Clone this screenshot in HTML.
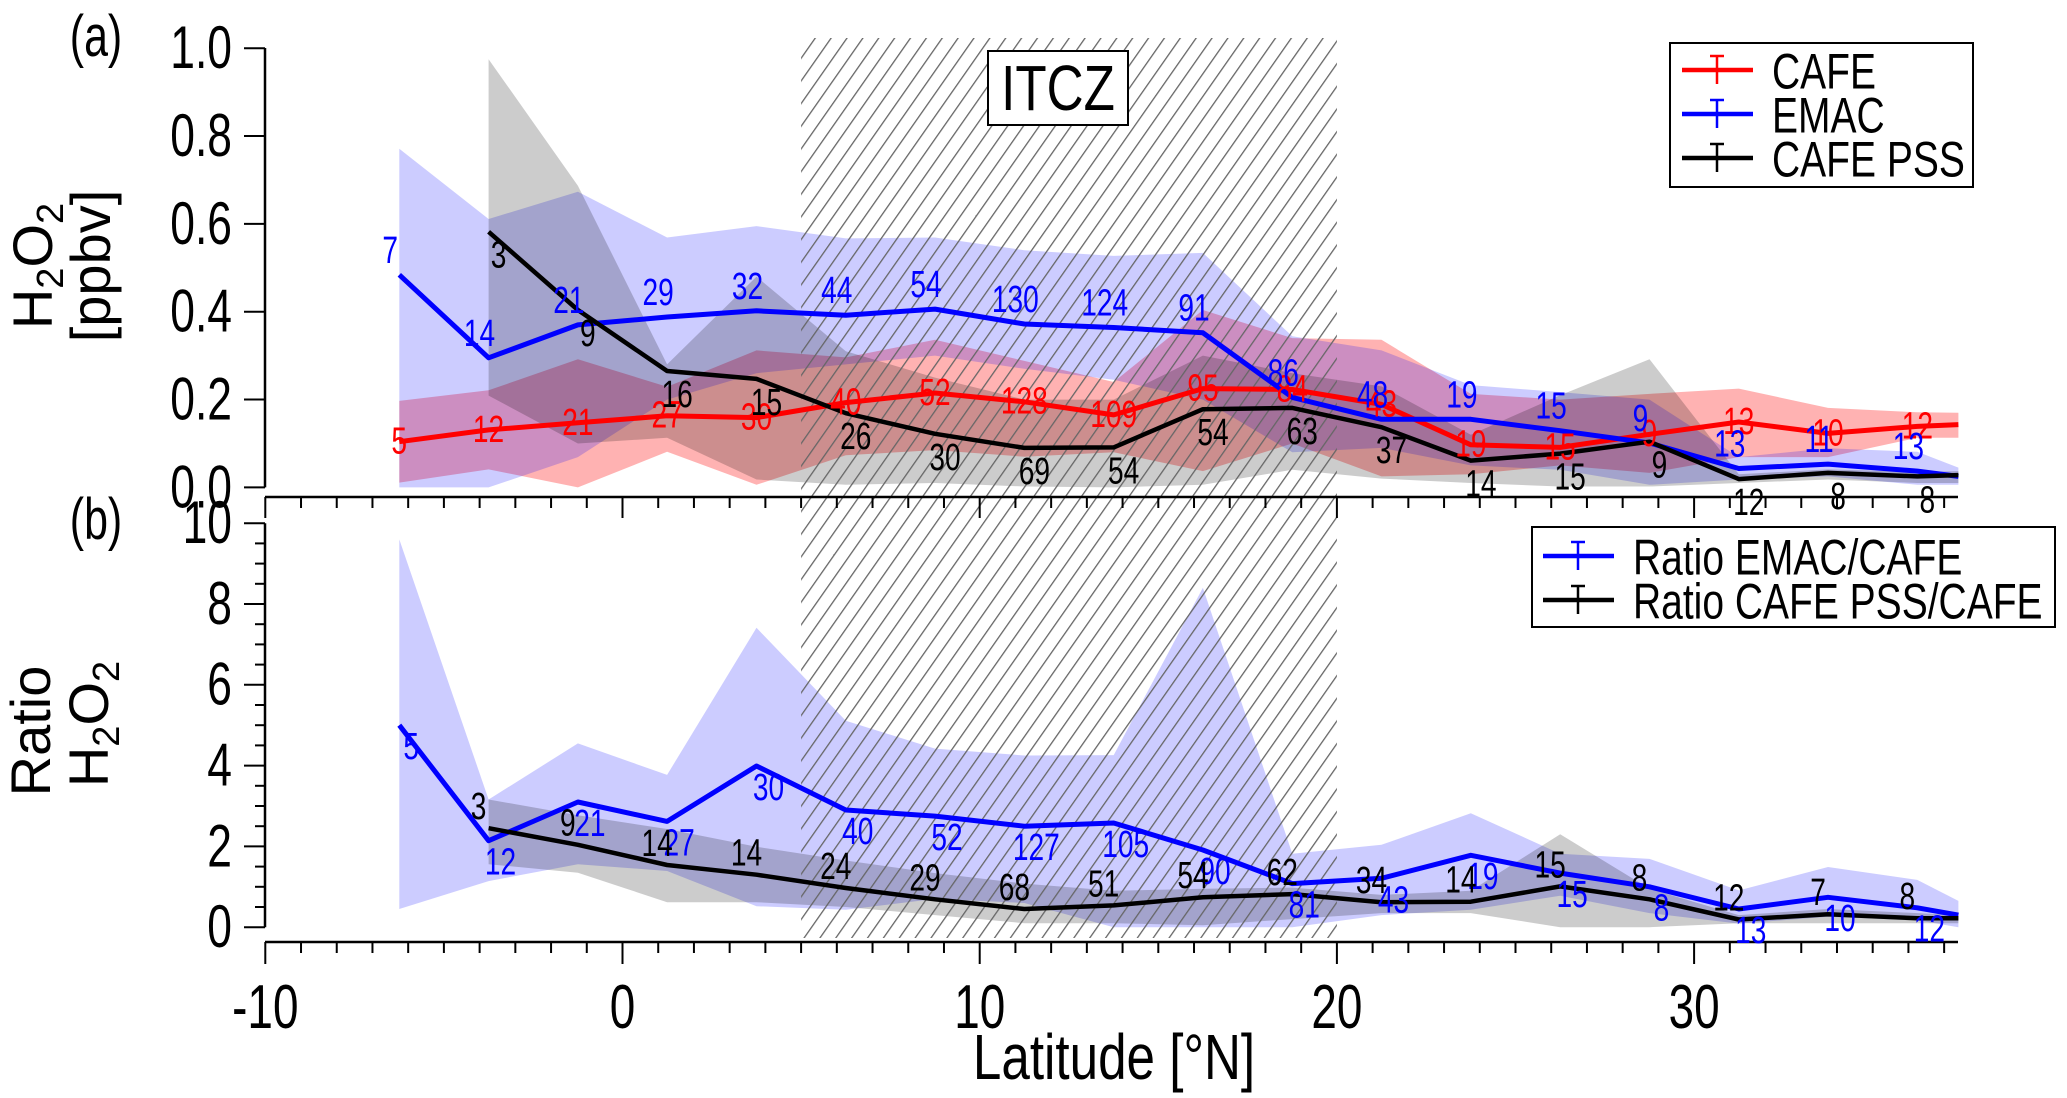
<!DOCTYPE html>
<html><head><meta charset="utf-8"><style>
html,body{margin:0;padding:0;background:#fff}
svg{display:block}
text{font-family:"Liberation Sans",sans-serif}
</style></head><body>
<svg id="chart" width="2067" height="1098" viewBox="0 0 2067 1098" xmlns="http://www.w3.org/2000/svg">
<defs>
<pattern id="hatch" patternUnits="userSpaceOnUse" width="13" height="13" patternTransform="rotate(35)">
<line x1="0" y1="0" x2="0" y2="13" stroke="#666" stroke-width="2.6"/>
</pattern>
</defs>
<g id="bands"></g>
<rect id="hatchrect" fill="url(#hatch)"/>
<g id="lines"></g>
<g id="axes"></g>
<g id="labels"></g>
<g id="annot"></g>
</svg>
<script>
const lats = [-6.25,-3.75,-1.25,1.25,3.75,6.25,8.75,11.25,13.75,16.25,18.75,21.25,23.75,26.25,28.75,31.25,33.75,36.25,37.4];
// top panel (ppbv)
const cafe = [0.104,0.131,0.147,0.163,0.159,0.193,0.215,0.195,0.165,0.225,0.223,0.189,0.097,0.091,0.121,0.149,0.123,0.139,0.143];
const cafeHi = [0.197,0.221,0.292,0.229,0.312,0.296,0.336,0.288,0.24,0.404,0.34,0.336,0.213,0.2,0.213,0.225,0.181,0.171,0.17];
const cafeLo = [0.011,0.041,0,0.081,0.006,0.073,0.085,0.07,0.08,0.037,0.1,0.025,0.03,0.05,0.033,0.069,0.069,0.113,0.113];
const emac = [0.484,0.295,0.37,0.388,0.402,0.392,0.406,0.372,0.364,0.352,0.205,0.155,0.155,0.129,0.101,0.043,0.053,0.037,0.025];
const emacHi = [0.771,0.611,0.673,0.569,0.595,0.567,0.569,0.54,0.527,0.534,0.344,0.312,0.233,0.217,0.2,0.069,0.089,0.081,0.045];
const emacLo = [0,0,0.069,0.2,0.26,0.28,0.3,0.27,0.245,0.2,0.08,0.09,0.05,0.04,0.006,0.018,0.025,0.006,0.006];
const pssLats = [-3.75,-1.25,1.25,3.75,6.25,8.75,11.25,13.75,16.25,18.75,21.25,23.75,26.25,28.75,31.25,33.75,36.25,37.4];
const pss = [0.582,0.404,0.265,0.247,0.169,0.122,0.09,0.091,0.178,0.181,0.137,0.061,0.077,0.104,0.019,0.033,0.025,0.028];
const pssHi = [0.975,0.687,0.28,0.48,0.31,0.25,0.2,0.2,0.3,0.26,0.23,0.12,0.21,0.292,0.03,0.041,0.035,0.037];
const pssLo = [0.209,0.1,0.113,0.018,0.006,0.01,0.002,0,0.006,0.04,0.02,0.01,0.002,0.002,0.01,0.018,0.01,0.01];
const cafeN = [5,12,21,27,30,40,52,128,109,95,84,43,19,15,9,13,10,12];
const emacN = [7,14,21,29,32,44,54,130,124,91,86,48,19,15,9,13,11,13];
const pssN = [3,9,16,15,26,30,69,54,54,63,37,14,15,9,12,8,8];
// bottom panel (ratios)
const rEmac = [5.0,2.14,3.1,2.62,3.99,2.9,2.75,2.5,2.58,1.91,1.08,1.21,1.78,1.34,1.0,0.45,0.74,0.48,0.3];
const rEmacHi = [9.6,3.16,4.55,3.77,7.41,5.11,4.42,4.25,4.26,8.4,1.82,2.04,2.82,1.82,1.69,0.91,1.49,1.17,0.65];
const rEmacLo = [0.45,1.14,1.56,1.39,0.52,0.43,0.7,0.6,0,0,0,0.3,0.43,0.78,0.35,0.09,0.26,0.17,0];
const rPss = [2.45,2.04,1.54,1.3,0.97,0.69,0.45,0.54,0.74,0.82,0.62,0.63,1.01,0.69,0.19,0.32,0.22,0.22];
const rPssHi = [3.16,2.77,2.43,1.99,1.65,1.34,1.08,0.9,0.95,0.98,0.8,0.9,2.3,0.95,0.3,0.45,0.35,0.3];
const rPssLo = [1.56,1.35,0.62,0.62,0.5,0.3,0.1,0.1,0.05,0.2,0.35,0.35,0,0,0.1,0.1,0.1,0.1];
const rEmacN = [5,12,21,27,30,40,52,127,105,90,81,43,19,15,8,13,10,12];
const rPssN = [3,9,14,14,24,29,68,51,54,62,34,14,15,8,12,7,8];
const xTicks = [-10,0,10,20,30];
const yTopTicks = [0,0.2,0.4,0.6,0.8,1.0];
const yBotTicks = [0,2,4,6,8,10];

const NS = "http://www.w3.org/2000/svg";
const X0 = 265, X1 = 1958;
const xs = v => 622.5 + v * 35.72;
const yT = v => 487.4 - v * 439.2;
const yB = v => 927.2 - v * 40.4;
function mk(tag, attrs, parent){
  const e = document.createElementNS(NS, tag);
  for (const k in attrs) e.setAttribute(k, attrs[k]);
  parent.appendChild(e);
  return e;
}
const G = id => document.getElementById(id);
function txt(parent, x, y, s, size, color, anchor, name, sx){
  const g = mk('g', {transform:`translate(${x},${y}) scale(${sx||0.74},1)`}, parent);
  const t = mk('text', {x:0, y:0, 'font-size':size, fill:color, 'text-anchor':anchor||'middle', 'dominant-baseline':'central'}, g);
  t.textContent = s;
  
  
  return t;
}
function band(lx, hi, lo, ys, fill, name){
  let d = lx.map((v,i)=>(i?'L':'M')+xs(v).toFixed(1)+','+ys(hi[i]).toFixed(1)).join('');
  for (let i=lx.length-1;i>=0;i--) d += 'L'+xs(lx[i]).toFixed(1)+','+ys(lo[i]).toFixed(1);
  const p = mk('path', {d:d+'Z', fill:fill}, G('bands'));
  
  
}
function line(lx, vals, ys, color, w, name){
  const d = lx.map((v,i)=>(i?'L':'M')+xs(v).toFixed(1)+','+ys(vals[i]).toFixed(1)).join('');
  const p = mk('path', {d:d, fill:'none', stroke:color, 'stroke-width':w, 'stroke-linejoin':'round'}, G('lines'));
  
  
}
function counts(lx, vals, ns, ys, color, dx, dy, name){
  ns.forEach((n,i)=>{ txt(G('labels'), xs(lx[i])+dx, ys(vals[i])+dy, String(n), 38, color, 'middle', name); });
}

band(lats, cafeHi, cafeLo, yT, 'rgba(255,0,0,0.3)', 'cafe-range-band');
band(lats, emacHi, emacLo, yT, 'rgba(0,0,255,0.2)', 'emac-range-band');
band(pssLats, pssHi, pssLo, yT, 'rgba(0,0,0,0.2)', 'cafe-pss-range-band');
band(lats, rEmacHi, rEmacLo, yB, 'rgba(0,0,255,0.2)', 'ratio-emac-range-band');
band(pssLats, rPssHi, rPssLo, yB, 'rgba(0,0,0,0.2)', 'ratio-pss-range-band');

const hr = G('hatchrect');
hr.setAttribute('x', xs(5)); hr.setAttribute('y', 38); hr.setAttribute('width', xs(20)-xs(5)); hr.setAttribute('height', 938-38);

line(lats, cafe, yT, '#ff0000', 5, 'cafe-line');
line(lats, emac, yT, '#0000ff', 5, 'emac-line');
line(pssLats, pss, yT, '#000000', 4.5, 'cafe-pss-line');
line(lats, rEmac, yB, '#0000ff', 5, 'ratio-emac-line');
line(pssLats, rPss, yB, '#000000', 4.5, 'ratio-pss-line');

counts(lats, cafe, cafeN, yT, '#ff0000', 0, 0, 'cafe-count-label');
counts(lats, emac, emacN, yT, '#0000ff', -9, -24, 'emac-count-label');
counts(pssLats, pss, pssN, yT, '#000000', 10, 24, 'cafe-pss-count-label');
counts(lats, rEmac, rEmacN, yB, '#0000ff', 12, 22, 'ratio-emac-count-label');
counts(pssLats, rPss, rPssN, yB, '#000000', -10, -21, 'ratio-pss-count-label');

const ax = G('axes');
mk('line', {x1:X0, y1:48, x2:X0, y2:yT(0), stroke:'#000', 'stroke-width':2.5}, ax);
mk('line', {x1:X0, y1:yB(10), x2:X0, y2:yB(0), stroke:'#000', 'stroke-width':2.5}, ax);
mk('line', {x1:X0, y1:497, x2:X1, y2:497, stroke:'#000', 'stroke-width':2.5}, ax);
mk('line', {x1:X0, y1:942, x2:X1, y2:942, stroke:'#000', 'stroke-width':2.5}, ax);
for (let v=-10; v<=37; v++){
  const maj = v%10===0;
  mk('line', {x1:xs(v), y1:497, x2:xs(v), y2:497+(maj?21:11), stroke:'#000', 'stroke-width':2}, ax);
  mk('line', {x1:xs(v), y1:942, x2:xs(v), y2:942+(maj?22:11), stroke:'#000', 'stroke-width':2}, ax);
}
xTicks.forEach(v=>txt(ax, xs(v), 1007, String(v), 62, '#000', 'middle', 'x-tick-label'));
yTopTicks.forEach(v=>{
  mk('line', {x1:X0-21, y1:yT(v), x2:X0, y2:yT(v), stroke:'#000', 'stroke-width':2}, ax);
  txt(ax, 232, yT(v), v.toFixed(1), 60, '#000', 'end', 'y-tick-label-top');
});
for (let v=0; v<=10; v+=0.5){
  const maj = v%2===0;
  mk('line', {x1:X0-(maj?21:10), y1:yB(v), x2:X0, y2:yB(v), stroke:'#000', 'stroke-width':2}, ax);
}
yBotTicks.forEach(v=>txt(ax, 232, yB(v), String(v), 60, '#000', 'end', 'y-tick-label-bottom'));

// annotations
const an = G('annot');
txt(an, 96, 36, '(a)', 58, '#000', 'middle', 'panel-a-label');
txt(an, 96, 519, '(b)', 58, '#000', 'middle', 'panel-b-label');
txt(an, 1114, 1058, 'Latitude [°N]', 64, '#000', 'middle', 'x-axis-title', 0.8);
const box = mk('rect', {x:988, y:51, width:140, height:74, fill:'#fff', stroke:'#000', 'stroke-width':2}, an);


txt(an, 1058, 89, 'ITCZ', 64, '#000', 'middle', 'itcz-label', 0.8);
function legend(x, y, color, label, name){
  mk('line', {x1:x, y1:y, x2:x+71, y2:y, stroke:color, 'stroke-width':4.5}, an);
  mk('line', {x1:x+35, y1:y-14, x2:x+35, y2:y+14, stroke:color, 'stroke-width':2.5}, an);
  mk('line', {x1:x+28, y1:y-14, x2:x+42, y2:y-14, stroke:color, 'stroke-width':2.5}, an);
  txt(an, x+90, y+1, label, 50, '#000', 'start', name, 0.78);
}
const lt = mk('rect', {x:1670, y:43, width:303, height:144, fill:'#fff', stroke:'#000', 'stroke-width':2}, an);


legend(1682, 70, '#f00', 'CAFE', 'legend-entry-cafe');
legend(1682, 114, '#00f', 'EMAC', 'legend-entry-emac');
legend(1682, 158, '#000', 'CAFE PSS', 'legend-entry-cafe-pss');
const lb = mk('rect', {x:1532, y:527, width:523, height:100, fill:'#fff', stroke:'#000', 'stroke-width':2}, an);


legend(1543, 556, '#00f', 'Ratio EMAC/CAFE', 'legend-entry-ratio-emac');
legend(1543, 600, '#000', 'Ratio CAFE PSS/CAFE', 'legend-entry-ratio-pss');
</script>
<svg style="position:absolute;left:0;top:0" width="2067" height="1098">
<g font-family="Liberation Sans, sans-serif">
<g transform="translate(52,266) rotate(-90)"><text x="0" y="0" font-size="56" text-anchor="middle">H<tspan font-size="38" dy="11">2</tspan><tspan dy="-11">O</tspan><tspan font-size="38" dy="11">2</tspan></text></g>
<g transform="translate(110,266) rotate(-90)"><text x="0" y="0" font-size="56" text-anchor="middle">[ppbv]</text></g>
<g transform="translate(50,731) rotate(-90)"><text x="0" y="0" font-size="56" text-anchor="middle">Ratio</text></g>
<g transform="translate(108,724) rotate(-90)"><text x="0" y="0" font-size="56" text-anchor="middle">H<tspan font-size="38" dy="11">2</tspan><tspan dy="-11">O</tspan><tspan font-size="38" dy="11">2</tspan></text></g>
</g>
</svg>
</body></html>
